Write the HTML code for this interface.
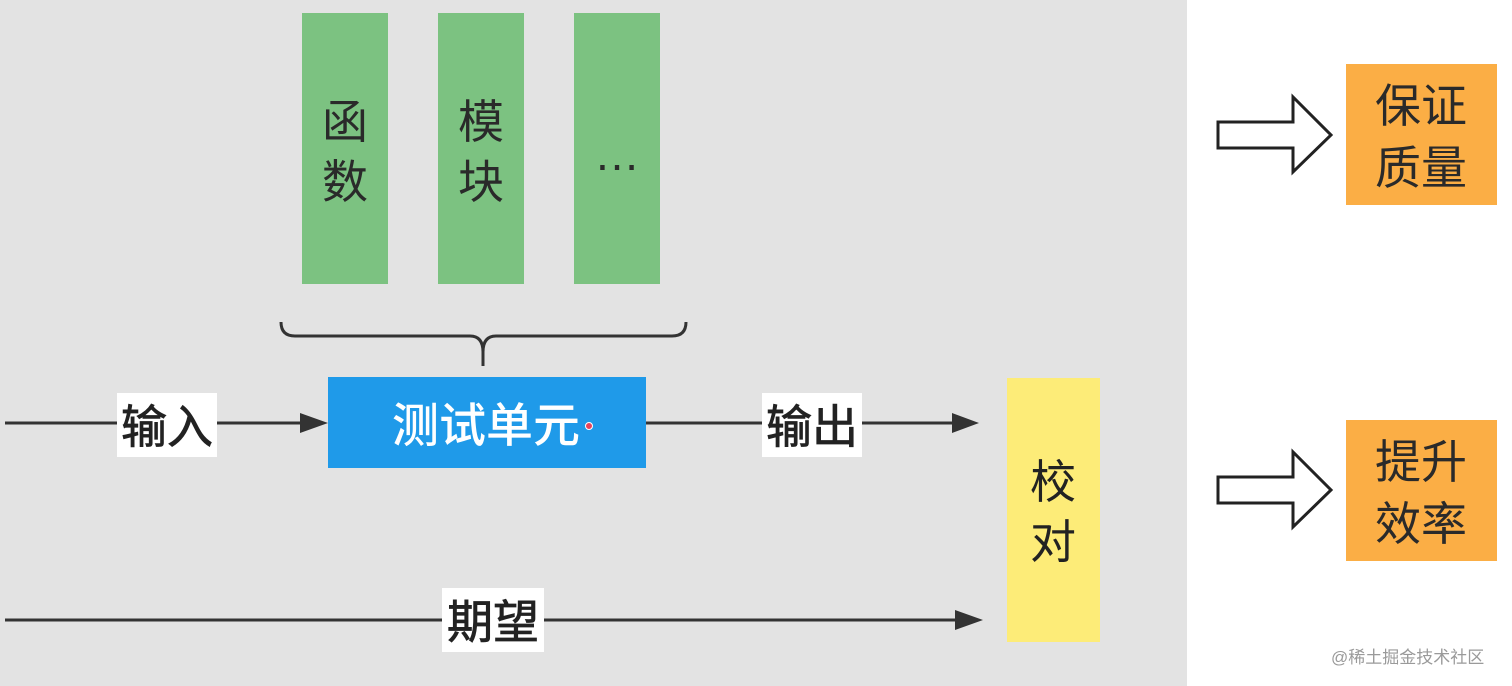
<!DOCTYPE html>
<html><head><meta charset="utf-8"><style>
html,body{margin:0;padding:0;background:#fff;width:1512px;height:686px;overflow:hidden}
svg{display:block}
text{font-family:"Liberation Sans","Noto Sans CJK SC",sans-serif}
</style></head><body>
<svg width="1512" height="686" viewBox="0 0 1512 686" xmlns="http://www.w3.org/2000/svg">
<rect x="0" y="0" width="1187" height="686" fill="#e3e3e3"/>
<rect x="302" y="13" width="86" height="271" fill="#7cc281"/>
<rect x="438" y="13" width="86" height="271" fill="#7cc281"/>
<rect x="574" y="13" width="86" height="271" fill="#7cc281"/>
<g font-size="46" fill="#2a2a2a" text-anchor="middle">
<text x="345" y="138">函</text><text x="345" y="198">数</text>
<text x="481" y="138">模</text><text x="481" y="198">块</text>
<text x="617" y="170">…</text>
</g>
<path d="M281,322 Q281,336 295,336 L470,336 Q483,336 483,352 L483,366 M483,352 Q483,336 496,336 L672,336 Q686,336 686,322" fill="none" stroke="#333" stroke-width="3"/>
<rect x="328" y="377" width="318" height="91" fill="#1f9ae9"/>
<text x="486" y="442" font-size="47" font-weight="500" fill="#fff" text-anchor="middle">测试单元</text>
<circle cx="589" cy="426" r="3.5" fill="#e8435b" stroke="#fff" stroke-width="1"/>
<line x1="5" y1="423" x2="305" y2="423" stroke="#333" stroke-width="3"/>
<path d="M300,413 L328,423 L300,433z" fill="#333"/>
<rect x="117" y="393" width="100" height="64" fill="#fff"/>
<text x="167" y="443" font-size="46" fill="#222" text-anchor="middle" stroke="#222" stroke-width="0.8">输入</text>
<line x1="646" y1="423" x2="955" y2="423" stroke="#333" stroke-width="3"/>
<path d="M952,413 L979,423 L952,433z" fill="#333"/>
<rect x="762" y="393" width="100" height="64" fill="#fff"/>
<text x="812" y="443" font-size="46" fill="#222" text-anchor="middle" stroke="#222" stroke-width="0.8">输出</text>
<line x1="5" y1="620" x2="958" y2="620" stroke="#333" stroke-width="3"/>
<path d="M955,610 L983,620 L955,630z" fill="#333"/>
<rect x="442" y="588" width="102" height="64" fill="#fff"/>
<text x="493" y="638" font-size="46" fill="#222" text-anchor="middle" stroke="#222" stroke-width="0.8">期望</text>
<rect x="1007" y="378" width="93" height="264" fill="#fdec78"/>
<g font-size="46" fill="#222" text-anchor="middle">
<text x="1053" y="498">校</text><text x="1053" y="558">对</text>
</g>
<rect x="1346" y="64" width="151" height="141" fill="#fbae45"/>
<rect x="1346" y="420" width="151" height="141" fill="#fbae45"/>
<g font-size="46" fill="#2a2a2a" text-anchor="middle">
<text x="1421" y="122">保证</text><text x="1421" y="184">质量</text>
<text x="1421" y="478">提升</text><text x="1421" y="540">效率</text>
</g>
<path d="M1218,122 L1293,122 L1293,97 L1331,135 L1293,172 L1293,148 L1218,148z" fill="#fff" stroke="#222" stroke-width="3"/>
<path d="M1218,477 L1293,477 L1293,452 L1331,490 L1293,527 L1293,503 L1218,503z" fill="#fff" stroke="#222" stroke-width="3"/>
<text x="1331" y="663" font-size="17" fill="#9a9a9a">@稀土掘金技术社区</text>
</svg>
</body></html>
